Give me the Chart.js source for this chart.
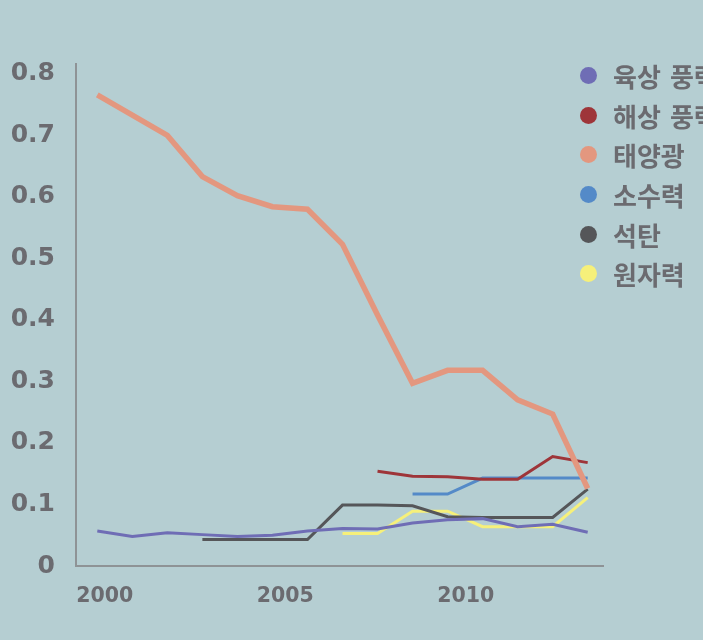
<!DOCTYPE html>
<html lang="ko">
<head>
<meta charset="utf-8">
<script src="https://cdn.jsdelivr.net/npm/chart.js@4.4.1/dist/chart.umd.min.js"></script>
<style>
  html, body { margin: 0; padding: 0; background: #b5ced2; overflow: hidden; }
  #wrap { position: relative; width: 703px; height: 640px; overflow: hidden; }
  #legend { position: absolute; left: 580px; top: 56px; margin: 0; padding: 0; list-style: none; white-space: nowrap; }
  #legend li { height: 39.6px; display: flex; align-items: center; font: 700 26px "DejaVu Sans", "Noto Sans CJK KR", sans-serif; color: #6b6b70; }
  #legend span { display: inline-block; width: 17px; height: 17px; border-radius: 50%; margin-right: 16px; flex: none; }
</style>
</head>
<body>
<div id="wrap">
  <canvas id="chart" width="703" height="640"></canvas>
  <ul id="legend"></ul>
</div>
<script>
const years = [2000, 2001, 2002, 2003, 2004, 2005, 2006, 2007, 2008, 2009, 2010, 2011, 2012, 2013, 2014];
const onshoreWind = [0.057, 0.048, 0.054, 0.051, 0.048, 0.050, 0.057, 0.061, 0.060, 0.070, 0.075, 0.077, 0.064, 0.068, 0.055];
const offshoreWind = [null, null, null, null, null, null, null, null, 0.154, 0.146, 0.145, 0.141, 0.141, 0.178, 0.168];
const solar = [0.766, 0.733, 0.700, 0.633, 0.602, 0.584, 0.580, 0.523, 0.408, 0.297, 0.318, 0.318, 0.270, 0.247, 0.126];
const hydro = [null, null, null, null, null, null, null, null, null, 0.117, 0.117, 0.143, 0.143, 0.143, 0.143];
const coal = [null, null, null, 0.043, 0.043, 0.043, 0.043, 0.099, 0.099, 0.098, 0.080, 0.079, 0.079, 0.079, 0.125];
const nuclear = [null, null, null, null, null, null, null, 0.053, 0.053, 0.089, 0.089, 0.064, 0.064, 0.064, 0.111];
const yTicks = [0, 0.1, 0.2, 0.3, 0.4, 0.5, 0.6, 0.7, 0.8];
const xTicks = [2000, 2005, 2010];

const textColor = "#6b6b70";
const axisColor = "#8e9396";
const numFont = "'DejaVu Sans', sans-serif";

const points = vals => years.map((yr, i) => ({ x: yr, y: vals[i] }));

const series = [
  { label: "육상 풍력", data: onshoreWind, color: "#6f6db5", width: 3, order: 1 },
  { label: "해상 풍력", data: offshoreWind, color: "#9e3539", width: 3, order: 1 },
  { label: "태양광", data: solar, color: "#e3977f", width: 5.5, order: 0 },
  { label: "소수력", data: hydro, color: "#548ac8", width: 3, order: 1 },
  { label: "석탄", data: coal, color: "#555659", width: 3, order: 1 },
  { label: "원자력", data: nuclear, color: "#f6f07a", width: 3, order: 1 }
];

const chart = new Chart(document.getElementById("chart"), {
  type: "line",
  data: {
    datasets: series.map(s => ({
      label: s.label,
      data: points(s.data),
      borderColor: s.color,
      backgroundColor: s.color,
      borderWidth: s.width,
      pointRadius: 0,
      tension: 0,
      order: s.order,
      xAxisID: "x",
      yAxisID: "y"
    }))
  },
  options: {
    responsive: false,
    animation: false,
    layout: { padding: { top: 64, right: 100, left: 0, bottom: 0 } },
    plugins: {
      legend: { display: false },
      tooltip: { enabled: false }
    },
    scales: {
      x: {
        type: "linear",
        display: false,
        min: 1999.392,
        max: 2014.437
      },
      // separate axis only for the year labels and the bottom line
      xLabels: {
        type: "linear",
        position: "bottom",
        min: 1999.205,
        max: 2013.80,
        afterBuildTicks: scale => { scale.ticks = xTicks.map(v => ({ value: v })); },
        afterFit: scale => { scale.height = 74; },
        grid: { display: false, drawTicks: false },
        border: { display: true, color: axisColor, width: 2 },
        ticks: {
          padding: 18,
          color: textColor,
          font: { family: numFont, size: 20.5, weight: "bold" },
          callback: v => String(v),
          maxRotation: 0
        }
      },
      y: {
        min: 0,
        max: 0.816,
        afterBuildTicks: scale => { scale.ticks = yTicks.map(v => ({ value: v })); },
        afterFit: scale => { scale.width = 76; },
        grid: { display: false, drawTicks: false },
        border: { display: true, color: axisColor, width: 2 },
        ticks: {
          padding: 21,
          color: textColor,
          font: { family: numFont, size: 25, weight: "bold" },
          callback: v => (v === 0 ? "0" : v.toFixed(1))
        }
      }
    }
  }
});

// legend as html, in dataset order
const legendEl = document.getElementById("legend");
chart.data.datasets.forEach(ds => {
  const li = document.createElement("li");
  const dot = document.createElement("span");
  dot.style.background = ds.borderColor;
  li.appendChild(dot);
  li.appendChild(document.createTextNode(ds.label));
  legendEl.appendChild(li);
});
</script>
</body>
</html>
